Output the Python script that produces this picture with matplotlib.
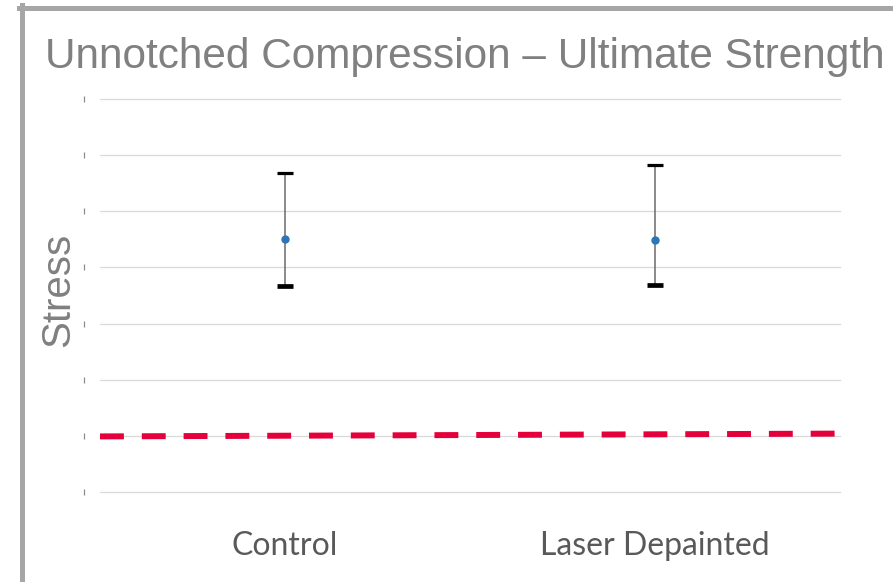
import matplotlib
matplotlib.use('Agg')
import matplotlib.pyplot as plt
from matplotlib.lines import Line2D
import matplotlib.transforms as mtransforms

# data
categories = ['Control', 'Laser Depainted']
means = [4.50, 4.48]
upper = [5.69, 5.83]
lower = [3.67, 3.69]
limit_x = [-0.5, 1.5]
limit_y = [0.99, 1.04]
grid_levels = [0, 1, 2, 3, 4, 5, 6, 7]

W, H = 893, 582
fig = plt.figure(figsize=(W / 100, H / 100), dpi=100)
ax = fig.add_axes([100 / W, 1 - 492 / H, 740 / W, 393 / H])

xs = list(range(len(categories)))
err_lo = [m - l for m, l in zip(means, lower)]
err_hi = [u - m for m, u in zip(means, upper)]

ax.plot(limit_x, limit_y, color='#e4003a', lw=4.3, ls=(0, (4, 3)),
        solid_capstyle='butt', zorder=3)

eb = ax.errorbar(xs, means, yerr=[err_lo, err_hi], fmt='o', color='#2e75b6',
                 ms=5, ecolor='#6b6b6b', elinewidth=1.1, capsize=5.8,
                 capthick=2.3, zorder=4)
caps = eb[1]
for c in caps:
    c.set_markeredgecolor('black')
    c.set_markerfacecolor('black')
caps[0].set_markeredgewidth(3.4)

ax.set_xlim(-0.5, 1.5)
ax.set_ylim(0, 7)
ax.set_yticks(grid_levels)
ax.set_yticklabels([])
ax.grid(axis='y', color='#d9d9d9', lw=0.9)
for gl in ax.get_ygridlines():
    gl.set_clip_on(False)
ax.set_axisbelow(True)
for s in ax.spines.values():
    s.set_visible(False)

ax.set_xticks(xs)
ax.set_xticklabels(categories, fontsize=23, color='#595959', family='Lato')
ax.tick_params(axis='x', length=0, pad=28)

# small vertical tick marks left of the plot area
ax.tick_params(axis='y', length=0)
trans = mtransforms.blended_transform_factory(ax.transAxes, ax.transData)
ax.plot([-16 / 740] * len(grid_levels), grid_levels, ls='none', marker='|',
        ms=4, mew=0.9, color='#8c8c8c', transform=trans, clip_on=False)

fig.text(45 / W, 1 - 68 / H, 'Unnotched Compression \u2013 Ultimate Strength',
         fontsize=30.5, color='#808080', family='Liberation Sans',
         ha='left', va='baseline')
fig.text(58 / W, 1 - 290 / H, 'Stress', fontsize=29, color='#808080',
         family='Liberation Sans', rotation=90, ha='center', va='center')

# grey frame, cut off at right and bottom
frame_col = '#a6a6a6'
fig.add_artist(Line2D([21.5 / W, 21.5 / W], [1 - 5 / H, -0.05], color=frame_col,
                      lw=3.6, transform=fig.transFigure))
fig.add_artist(Line2D([19 / W, 1.05], [1 - 7.5 / H, 1 - 7.5 / H], color=frame_col,
                      lw=3.6, transform=fig.transFigure))

fig.savefig('out.png', dpi=100)
